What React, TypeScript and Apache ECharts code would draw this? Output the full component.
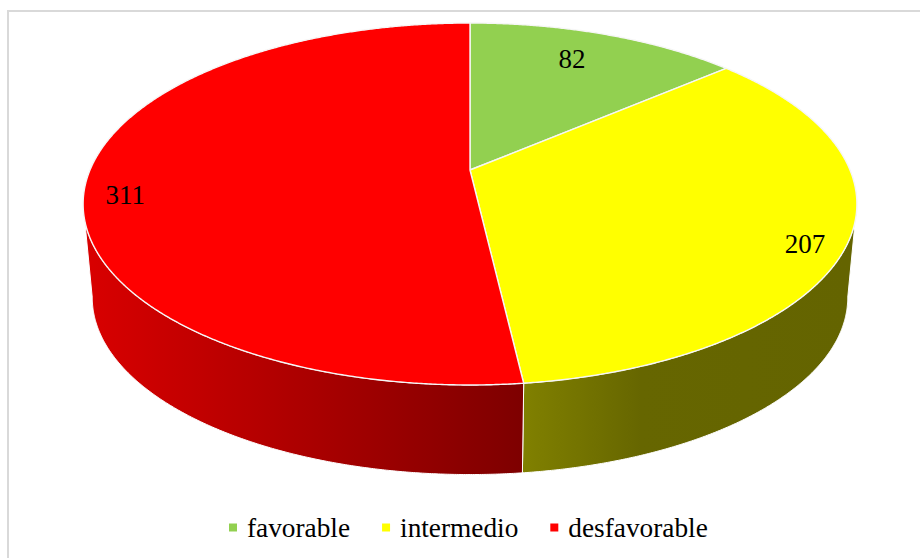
import React, { useEffect, useRef } from "react";
import * as echarts from "echarts";

const categories = ["favorable", "intermedio", "desfavorable"];
const counts = [82, 207, 311];
const sliceColors = ["#92d050", "#ffff00", "#ff0000"];

const SERIF = "'Liberation Serif', 'Times New Roman', serif";
const WIDTH = 920;
const HEIGHT = 558;

// Perspective disc: a unit circle projected so the near edge looks larger.
const PERSPECTIVE = -0.1878;
const topFace = { cx: 470, cy: 170, kx: 380, ky: 174.6 };
const baseFace = { cx: 470, cy: 264.5, kx: 371, ky: 170.6 };

// Clockwise angle from twelve o'clock at which the silhouette is widest.
const SILHOUETTE_RIGHT = Math.acos(PERSPECTIVE);
const SILHOUETTE_LEFT = 2 * Math.PI - SILHOUETTE_RIGHT;

function project(face: typeof topFace, angle: number, radius = 1): [number, number] {
  const u = radius * Math.sin(angle);
  const v = -radius * Math.cos(angle);
  const w = 1 + PERSPECTIVE * v;
  return [face.cx + (face.kx * u) / w, face.cy + (face.ky * v) / w];
}

function arc(face: typeof topFace, from: number, to: number): [number, number][] {
  const steps = Math.max(2, Math.ceil(Math.abs(to - from) / 0.005));
  const pts: [number, number][] = [];
  for (let i = 0; i <= steps; i++) pts.push(project(face, from + ((to - from) * i) / steps));
  return pts;
}

// Wall shading runs left to right in page coordinates.
const wallFills: (echarts.graphic.LinearGradient | null)[] = [
  null,
  new echarts.graphic.LinearGradient(524, 0, 850, 0, [
    { offset: 0, color: "#808000" },
    { offset: 0.36, color: "#666600" },
    { offset: 1, color: "#646400" },
  ], true),
  new echarts.graphic.LinearGradient(90, 0, 522, 0, [
    { offset: 0, color: "#d80000" },
    { offset: 1, color: "#7e0000" },
  ], true),
];

// Label placement: radial fraction along each slice's mid-angle, then a nudge.
const labelRadius = [0.725, 0.889, 0.9];
const labelNudge: [number, number][] = [[0, -9], [0, 14], [0, 16]];

const total = counts.reduce((a, b) => a + b, 0);

function renderSlice(index: number) {
  return (_params: unknown, api: any) => {
    const value = api.value(0) as number;
    const before = counts.slice(0, index).reduce((a, b) => a + b, 0);
    const start = (before / total) * 2 * Math.PI;
    const end = ((before + value) / total) * 2 * Math.PI;
    const children: any[] = [];

    const wallFrom = Math.max(start, SILHOUETTE_RIGHT);
    const wallTo = Math.min(end, SILHOUETTE_LEFT);
    const wallFill = wallFills[index];
    if (wallFill && wallTo > wallFrom) {
      children.push({
        type: "polygon",
        shape: { points: [...arc(topFace, wallFrom, wallTo), ...arc(baseFace, wallTo, wallFrom)] },
        style: { fill: wallFill, stroke: "#ffffff", lineWidth: 1, lineJoin: "round" },
      });
    }

    children.push({
      type: "polygon",
      shape: { points: [[topFace.cx, topFace.cy], ...arc(topFace, start, end)] },
      style: { fill: sliceColors[index], stroke: "#f6f6f6", lineWidth: 1.4, lineJoin: "round" },
    });

    const [lx, ly] = project(topFace, (start + end) / 2, labelRadius[index]);
    children.push({
      type: "text",
      x: lx + labelNudge[index][0],
      y: ly + labelNudge[index][1],
      style: {
        text: String(value),
        font: `27px ${SERIF}`,
        fill: "#000000",
        align: "center",
        verticalAlign: "middle",
      },
    });

    return { type: "group", children };
  };
}

export default function App() {
  const ref = useRef<HTMLDivElement>(null);

  useEffect(() => {
    const chart = echarts.init(ref.current!, undefined, { renderer: "svg" });
    chart.setOption({
      animation: false,
      backgroundColor: "#ffffff",
      graphic: [
        {
          type: "rect",
          shape: { x: 8, y: 11, width: 1200, height: 900 },
          style: { fill: "none", stroke: "#d9d9d9", lineWidth: 2 },
          z: -1,
        },
      ],
      legend: {
        left: 229,
        top: 514,
        data: categories,
        icon: "rect",
        itemWidth: 8,
        itemHeight: 8,
        itemGap: 32,
        padding: 0,
        textStyle: {
          fontFamily: SERIF,
          fontSize: 27.3,
          color: "#000000",
          padding: [0, 0, 0, 5],
        },
      },
      series: categories.map((name, i) => ({
        type: "custom",
        name,
        coordinateSystem: "none",
        itemStyle: { color: sliceColors[i] },
        renderItem: renderSlice(i),
        data: [[counts[i]]],
      })),
    });
    return () => chart.dispose();
  }, []);

  return (
    <div
      ref={ref}
      style={{ position: "fixed", left: 0, top: 0, width: WIDTH, height: HEIGHT, overflow: "hidden" }}
    />
  );
}
